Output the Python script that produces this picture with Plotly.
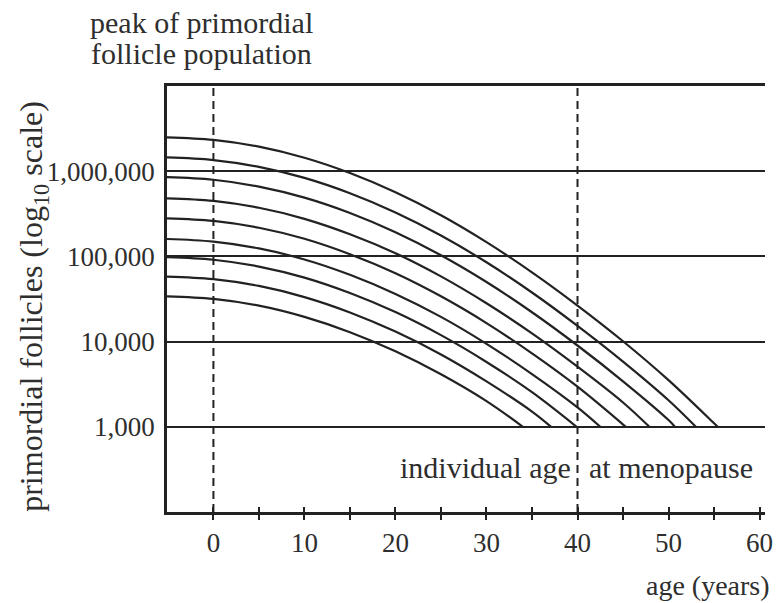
import plotly.graph_objects as go

# ---- data ----
ages_c1 = [-5.1, 0, 5, 10, 15, 20, 25, 30, 35, 40, 45, 50, 55, 55.4]
follicles_c1 = [2500000, 2333000, 1941000, 1439000, 951000, 566000, 304000, 147000, 65000, 26500, 10100, 3530, 1100, 1000]

ages_c2 = [-5.1, 0, 5, 10, 15, 20, 25, 30, 35, 40, 45, 50, 53.0]
follicles_c2 = [1450000, 1352000, 1125000, 834000, 551000, 328000, 176000, 85300, 37700, 15300, 5830, 2050, 1000]

ages_c3 = [-5.1, 0, 5, 10, 15, 20, 25, 30, 35, 40, 45, 50, 50.7]
follicles_c3 = [850000, 793000, 659000, 489000, 323000, 192000, 103000, 50000, 22100, 9000, 3420, 1200, 1000]

ages_c4 = [-5.1, 0, 5, 10, 15, 20, 25, 30, 35, 40, 45, 47.9]
follicles_c4 = [480000, 448000, 372000, 276000, 182000, 109000, 58300, 28200, 12500, 5080, 1930, 1000]

ages_c5 = [-5.1, 0, 5, 10, 15, 20, 25, 30, 35, 40, 45.3]
follicles_c5 = [280000, 261000, 217000, 161000, 106000, 63400, 34000, 16500, 7280, 2960, 1000]

ages_c6 = [-5.1, 0, 5, 10, 15, 20, 25, 30, 35, 40, 42.5]
follicles_c6 = [160000, 149000, 124000, 92000, 60800, 36200, 19500, 9420, 4160, 1690, 1000]

ages_c7 = [-5.1, 0, 5, 10, 15, 20, 25, 30, 35, 39.9]
follicles_c7 = [98000, 91400, 76000, 56400, 37200, 22200, 11900, 5770, 2550, 1000]

ages_c8 = [-5.1, 0, 5, 10, 15, 20, 25, 30, 35, 37.1]
follicles_c8 = [58000, 54100, 45000, 33300, 22000, 13100, 7050, 3410, 1510, 1000]

ages_c9 = [-5.1, 0, 5, 10, 15, 20, 25, 30, 34.0]
follicles_c9 = [34000, 31700, 26400, 19500, 12900, 7690, 4130, 2000, 1000]

reference_ages = [0, 40]  # peak of population, individual age at menopause

x_major_ticks = [0, 10, 20, 30, 40, 50, 60]
x_minor_ticks = [5, 15, 25, 35, 45, 55]
y_tick_vals = [1000, 10000, 100000, 1000000]
y_tick_text = ["1,000", "10,000", "100,000", "1,000,000"]

# ---- figure ----
INK = "#222222"
TXT = "#2e2e2e"
FONT = "Liberation Serif"
FS_TICK = 27
FS_TEXT = 30

curves = [
    (ages_c1, follicles_c1), (ages_c2, follicles_c2), (ages_c3, follicles_c3),
    (ages_c4, follicles_c4), (ages_c5, follicles_c5), (ages_c6, follicles_c6),
    (ages_c7, follicles_c7), (ages_c8, follicles_c8), (ages_c9, follicles_c9),
]

fig = go.Figure()
for ages, counts in curves:
    fig.add_trace(go.Scatter(
        x=ages, y=counts, mode="lines",
        line=dict(color=INK, width=2.2, shape="spline", smoothing=1.0),
        showlegend=False, hoverinfo="skip", cliponaxis=False,
    ))

# empty trace for the overlaid axis carrying the inward tick marks
fig.add_trace(go.Scatter(x=[], y=[], xaxis="x2", showlegend=False))

for a in reference_ages:
    fig.add_vline(x=a, line=dict(color=INK, width=2, dash="8px,5px"), layer="above")

tick_style = dict(ticklen=5, tickwidth=2, tickcolor=INK)

fig.update_layout(
    width=782, height=603,
    margin=dict(l=167, r=9, t=86, b=91),
    paper_bgcolor="white", plot_bgcolor="white",
    font=dict(family=FONT, size=FS_TICK, color=TXT),
    xaxis=dict(
        range=[-5.1, 60.6], tickmode="array", tickvals=x_major_ticks,
        showgrid=False, zeroline=False,
        showline=True, linecolor=INK, linewidth=2.5, mirror=True,
        ticks="outside", **tick_style,
        minor=dict(tickmode="array", tickvals=x_minor_ticks, ticks="outside", **tick_style),
        tickfont=dict(family=FONT, size=FS_TICK, color=TXT),
        ticklabelstandoff=0,
    ),
    xaxis2=dict(
        range=[-5.1, 60.6], overlaying="x", anchor="y", side="bottom",
        tickmode="array", tickvals=x_major_ticks, showticklabels=False,
        ticks="inside", **tick_style,
        minor=dict(tickmode="array", tickvals=x_minor_ticks, ticks="inside", **tick_style),
        showgrid=False, zeroline=False, showline=False,
    ),
    yaxis=dict(
        type="log", range=[2, 7], tickmode="array", tickvals=y_tick_vals, ticktext=y_tick_text,
        showgrid=True, gridcolor=INK, gridwidth=2,
        showline=True, linecolor=INK, linewidth=2.5,
        ticks="", zeroline=False,
        tickfont=dict(family=FONT, size=FS_TICK, color=TXT),
        ticklabelstandoff=4,
    ),
    annotations=[
        dict(text="peak of primordial", xref="paper", yref="paper", x=(202 - 167) / 606, y=(512 - 23) / 426,
             xanchor="center", yanchor="middle", showarrow=False,
             font=dict(family=FONT, size=FS_TEXT, color=TXT)),
        dict(text="follicle population", xref="paper", yref="paper", x=(202 - 167) / 606, y=(512 - 53) / 426,
             xanchor="center", yanchor="middle", showarrow=False,
             font=dict(family=FONT, size=FS_TEXT, color=TXT)),
        dict(text="individual age", xref="x", yref="paper", x=reference_ages[1], xshift=-5,
             y=(512 - 467) / 426, xanchor="right", yanchor="middle", showarrow=False,
             font=dict(family=FONT, size=FS_TEXT, color=TXT)),
        dict(text="at menopause", xref="x", yref="paper", x=reference_ages[1], xshift=9,
             y=(512 - 467) / 426, xanchor="left", yanchor="middle", showarrow=False,
             font=dict(family=FONT, size=FS_TEXT, color=TXT)),
        dict(text="age (years)", xref="paper", yref="paper", x=(780 - 167) / 606, y=(512 - 585) / 426,
             xanchor="right", yanchor="middle", showarrow=False,
             font=dict(family=FONT, size=28, color=TXT)),
        dict(text="primordial follicles (log<sub>10</sub> scale)", xref="paper", yref="paper",
             x=(31 - 167) / 606, y=(512 - 306) / 426, textangle=-90,
             xanchor="center", yanchor="middle", showarrow=False,
             font=dict(family=FONT, size=32, color=TXT)),
    ],
)

fig.write_html("out.html", post_script="document.body.style.margin='0';",
               config={"displayModeBar": False})
